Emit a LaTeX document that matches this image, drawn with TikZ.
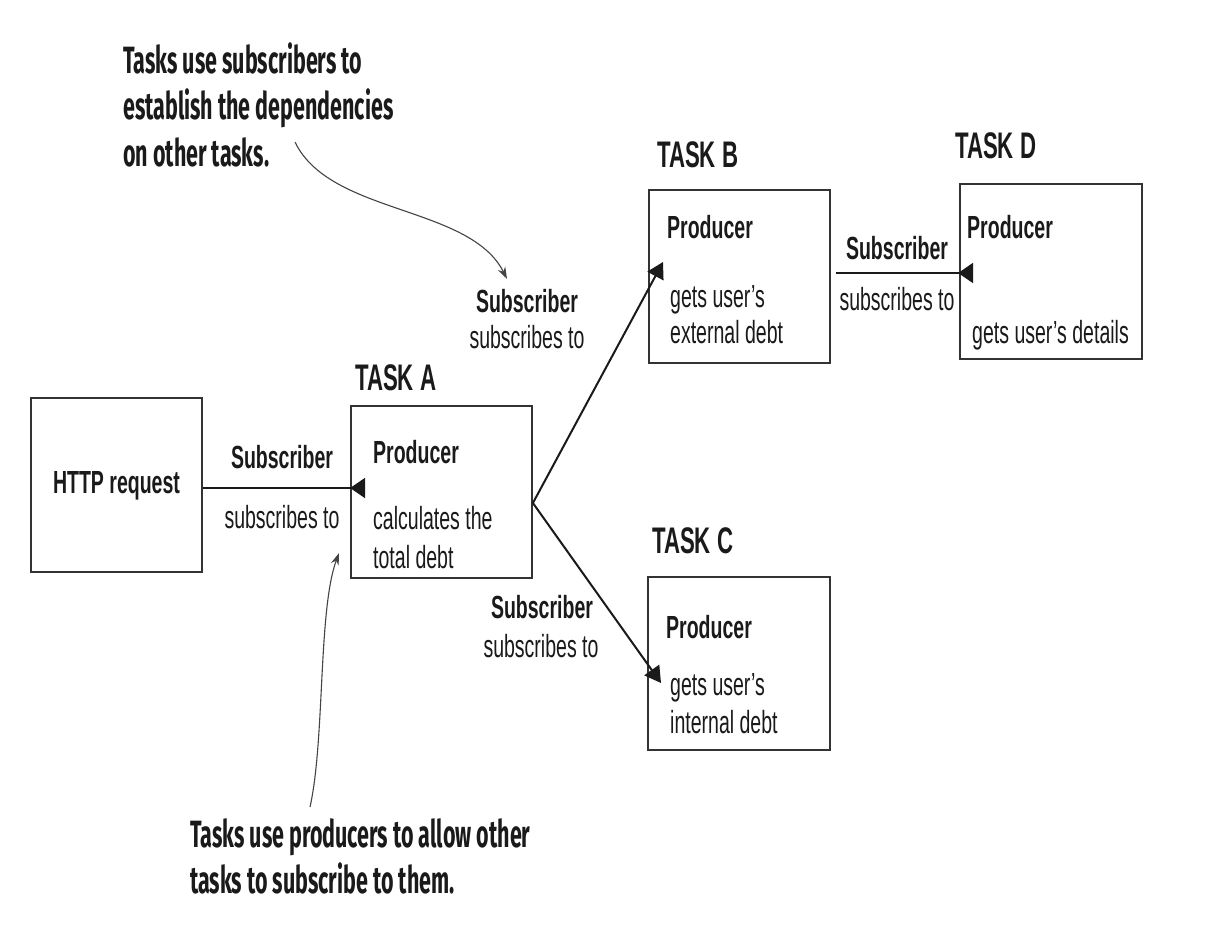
\documentclass[tikz,border=0pt]{standalone}
\usepackage{fontspec}
\setmainfont{Liberation Sans}
\newfontfamily\labfont{Liberation Sans}[FakeStretch=0.61]
\newfontfamily\ttlfont{Liberation Sans}[FakeStretch=0.60]
\newfontfamily\annfont{Fira Sans}[FakeStretch=0.565]
\usetikzlibrary{arrows.meta}
\definecolor{ink}{HTML}{1A1A1A}
\definecolor{edge}{HTML}{333333}
\definecolor{note}{HTML}{444444}
\begin{document}
\begin{tikzpicture}[x=1pt,y=-1pt,
  box/.style={draw=edge,line width=1.8pt,inner sep=0pt,fill=white},
  lbl/.style={font=\labfont\fontsize{32pt}{36pt}\selectfont\bfseries,text=ink,inner sep=0pt},
  txt/.style={font=\labfont\fontsize{32pt}{36pt}\selectfont,text=ink,inner sep=0pt},
  ttl/.style={font=\ttlfont\fontsize{37pt}{40pt}\selectfont\bfseries,text=ink,inner sep=0pt,anchor=base west},
  ann/.style={font=\annfont\fontsize{38pt}{46pt}\selectfont\bfseries,text=ink,inner sep=0pt,anchor=base west},
  conn/.style={draw=ink,line width=2pt},
  fhead/.style={-{Triangle[length=16pt,width=18pt]}},
  rhead/.style={-{Triangle[reversed,length=15pt,width=20pt]}},
  notearrow/.style={draw=note,line width=1.1pt,-{Stealth[length=12pt,width=8pt]}}
]
\useasboundingbox[fill=white] (0,0) rectangle (1228,940);

% boxes
\node[box,minimum width=171pt,minimum height=174pt] (http) at (116.5,485) {};
\node[box,minimum width=181pt,minimum height=172pt] (A) at (441.5,492) {};
\node[box,minimum width=181pt,minimum height=173pt] (B) at (739.5,276.5) {};
\node[box,minimum width=182pt,minimum height=173pt] (C) at (739,663.5) {};
\node[box,minimum width=182pt,minimum height=175pt] (D) at (1051,271.5) {};

% titles
\node[ttl] (tA) at (355,390) {TASK A};
\node[ttl] (tB) at (657,167) {TASK B};
\node[ttl] (tC) at (652,553) {TASK C};
\node[ttl] (tD) at (955,158) {TASK D};

% box texts
\node[lbl,anchor=base] (httptext) at (116.5,493) {HTTP request};
\node[lbl,anchor=base west] (pA) at (373,463) {Producer};
\node[txt,anchor=base west] (dA1) at (373,529) {calculates the};
\node[txt,anchor=base west] (dA2) at (373,568) {total debt};
\node[lbl,anchor=base west] (pB) at (667,238) {Producer};
\node[txt,anchor=base west] (dB1) at (670,307) {gets user’s};
\node[txt,anchor=base west] (dB2) at (670,343) {external debt};
\node[lbl,anchor=base west] (pC) at (666,638) {Producer};
\node[txt,anchor=base west] (dC1) at (670,695) {gets user’s};
\node[txt,anchor=base west] (dC2) at (670,733) {internal debt};
\node[lbl,anchor=base west] (pD) at (967,238) {Producer};
\node[txt,anchor=base west] (dD1) at (972,343) {gets user’s details};

% connector labels
\node[lbl,anchor=base] (s1) at (282,468) {Subscriber};
\node[txt,anchor=base] (s1b) at (282,528) {subscribes to};
\node[lbl,anchor=base] (s2) at (527,312) {Subscriber};
\node[txt,anchor=base] (s2b) at (527,348) {subscribes to};
\node[lbl,anchor=base] (s3) at (542,618) {Subscriber};
\node[txt,anchor=base] (s3b) at (541,657) {subscribes to};
\node[lbl,anchor=base] (s4) at (897,259) {Subscriber};
\node[txt,anchor=base] (s4b) at (897,310) {subscribes to};

% connectors
\coordinate (tipB) at (663,262);
\coordinate (tipC) at (661,683);
\draw[conn,rhead] ([yshift=-3pt]http.east) -- ([xshift=15pt,yshift=4pt]A.west);
\draw[conn,rhead] ([xshift=5pt,yshift=3.5pt]B.east) -- ([xshift=14pt,yshift=-1.5pt]D.west);
\draw[conn,fhead] ([yshift=-11pt]A.east) -- (tipB);
\draw[conn,fhead] ([yshift=-11pt]A.east) -- (tipC);

% annotations
\node[ann] (n1a) at (123,73) {Tasks use subscribers to};
\node[ann] (n1b) at (123,119) {establish the dependencies};
\node[ann] (n1c) at (123,166) {on other tasks.};
\node[ann] (n2a) at (190,847) {Tasks use producers to allow other};
\node[ann] (n2b) at (190,893) {tasks to subscribe to them.};

\coordinate (c1s) at (295,142);
\coordinate (c1e) at (507,279);
\coordinate (c2s) at (310,807);
\coordinate (c2e) at (339,553);
\draw[notearrow] (c1s) .. controls (330,215) and (470,205) .. (c1e);
\draw[notearrow] (c2s) .. controls (325,740) and (318,610) .. (c2e);
\end{tikzpicture}
\end{document}
